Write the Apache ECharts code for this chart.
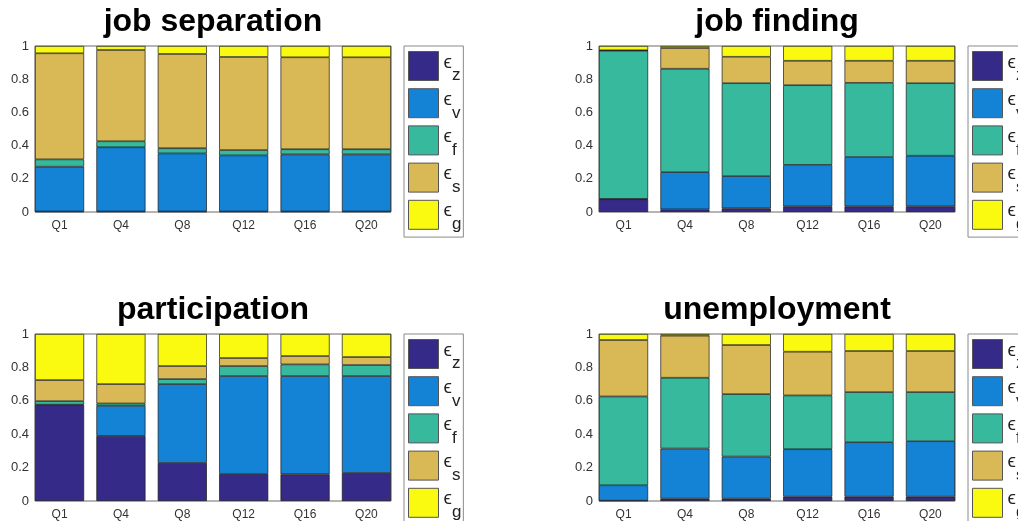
<!DOCTYPE html>
<html>
<head>
<meta charset="utf-8">
<script src="https://cdn.jsdelivr.net/npm/echarts@6/dist/echarts.min.js"></script>
<style>
  html, body { margin: 0; padding: 0; background: #fff; }
  #chart { width: 1018px; height: 521px; }
</style>
</head>
<body>
<div id="chart"></div>
<script>
// Forecast horizons on the x axis
const categories = ['Q1', 'Q4', 'Q8', 'Q12', 'Q16', 'Q20'];
// Shock subscripts shown in the legends (ϵ_z ... ϵ_g)
const shockKeys = ['z', 'v', 'f', 's', 'g'];
const yTicks = [0, 0.2, 0.4, 0.6, 0.8, 1];

// Variance shares: job separation
const sepZ = [0.003, 0.003, 0.003, 0.003, 0.003, 0.003];
const sepV = [0.270, 0.387, 0.350, 0.338, 0.344, 0.344];
const sepF = [0.044, 0.036, 0.031, 0.032, 0.031, 0.031];
const sepS = [0.639, 0.550, 0.568, 0.561, 0.554, 0.554];
const sepG = [0.044, 0.024, 0.048, 0.066, 0.068, 0.068];

// Variance shares: job finding
const findZ = [0.077, 0.016, 0.022, 0.034, 0.034, 0.034];
const findV = [0.002, 0.224, 0.194, 0.250, 0.297, 0.305];
const findF = [0.893, 0.623, 0.560, 0.480, 0.447, 0.437];
const findS = [0.002, 0.125, 0.159, 0.147, 0.133, 0.135];
const findG = [0.026, 0.012, 0.065, 0.089, 0.089, 0.089];

// Variance shares: participation
const partZ = [0.574, 0.390, 0.228, 0.162, 0.160, 0.168];
const partV = [0.003, 0.180, 0.472, 0.586, 0.588, 0.580];
const partF = [0.021, 0.014, 0.030, 0.060, 0.070, 0.066];
const partS = [0.126, 0.116, 0.078, 0.048, 0.050, 0.048];
const partG = [0.276, 0.300, 0.192, 0.144, 0.132, 0.138];

// Variance shares: unemployment
const unempZ = [0.002, 0.014, 0.014, 0.026, 0.026, 0.026];
const unempV = [0.092, 0.300, 0.252, 0.284, 0.326, 0.332];
const unempF = [0.532, 0.424, 0.374, 0.322, 0.300, 0.294];
const unempS = [0.338, 0.252, 0.294, 0.262, 0.246, 0.246];
const unempG = [0.036, 0.010, 0.066, 0.106, 0.102, 0.102];

const shockColors = ['#352A87', '#1483D6', '#36B99D', '#D9B856', '#F9FA0F'];
const FONT = '"Liberation Sans", Arial, Helvetica, sans-serif';

const panels = [
  { title: 'job separation', shares: [sepZ, sepV, sepF, sepS, sepG],           left: 35,  top: 46,  height: 166 },
  { title: 'job finding',    shares: [findZ, findV, findF, findS, findG],      left: 599, top: 46,  height: 166 },
  { title: 'participation',  shares: [partZ, partV, partF, partS, partG],      left: 35,  top: 334, height: 167 },
  { title: 'unemployment',   shares: [unempZ, unempV, unempF, unempS, unempG], left: 599, top: 334, height: 167 }
];
const PLOT_W = 356;
// x range in category units (bars sit at 1..6 with width 0.8, touching the frame)
const X_MIN = 0.6, X_MAX = 6.4;
const barPx = 0.8 * PLOT_W / (X_MAX - X_MIN);
const positions = categories.map((c, i) => i + 1);

const seriesName = k => 'ϵ_' + k;

const grids = [], xAxes = [], yAxes = [], series = [], titles = [], legends = [];

panels.forEach((p, gi) => {
  grids.push({
    left: p.left, top: p.top, width: PLOT_W, height: p.height,
    show: true, borderColor: '#6b6b6b', borderWidth: 1, backgroundColor: 'transparent'
  });
  xAxes.push({
    type: 'value', gridIndex: gi, min: X_MIN, max: X_MAX,
    axisLine: { show: false }, axisTick: { show: false }, splitLine: { show: false },
    axisLabel: {
      customValues: positions,
      formatter: v => categories[Math.round(v) - 1] || '',
      color: '#333', fontSize: 12, fontFamily: FONT, margin: 8
    }
  });
  yAxes.push({
    type: 'value', gridIndex: gi, min: 0, max: 1, interval: 0.2,
    axisLine: { show: false }, axisTick: { show: false }, splitLine: { show: false },
    axisLabel: {
      customValues: yTicks,
      color: '#333', fontSize: 13, fontFamily: FONT, margin: 6
    }
  });
  shockKeys.forEach((k, si) => {
    series.push({
      type: 'bar', name: seriesName(k),
      xAxisIndex: gi, yAxisIndex: gi, stack: 'shares' + gi,
      barWidth: barPx,
      // share first, horizon second: the share column is the one that stacks
      encode: { x: 1, y: 0 },
      data: p.shares[si].map((v, i) => [v, positions[i]]),
      itemStyle: { color: shockColors[si], borderColor: '#1a1a1a', borderWidth: 0.7 },
      emphasis: { disabled: true },
      silent: true
    });
  });
  titles.push({
    text: p.title,
    // the title box carries 5px padding on its left
    left: p.left + PLOT_W / 2 - 5, textAlign: 'center',
    top: p.top - 45,
    textStyle: { fontFamily: FONT, fontWeight: 'bold', fontSize: 32, color: '#000' }
  });
  legends.push({
    orient: 'vertical',
    left: p.left + PLOT_W + 13, top: p.top,
    height: 400,
    data: shockKeys.map(seriesName),
    itemWidth: 30, itemHeight: 29, itemGap: 3.9,
    icon: 'rect',
    padding: [5, 2, 4, 4],
    borderColor: '#8a8a8a', borderWidth: 1,
    itemStyle: { borderColor: '#555', borderWidth: 1 },
    selectedMode: false,
    formatter: name => '{e|ϵ}{s|' + name.split('_')[1] + '}',
    textStyle: {
      color: '#222', fontFamily: FONT,
      rich: {
        // epsilon sits a little above the swatch centre, the subscript well below it
        e: { fontSize: 19, height: 2, padding: [0, 0, 7.4, 0], fontFamily: FONT, color: '#222' },
        s: { fontSize: 17, height: 2, padding: [19.6, 0, 0, 0], fontFamily: FONT, color: '#222' }
      }
    }
  });
});

const chart = echarts.init(document.getElementById('chart'), null, { renderer: 'canvas' });
chart.setOption({
  animation: false,
  backgroundColor: '#fff',
  title: titles,
  legend: legends,
  grid: grids,
  xAxis: xAxes,
  yAxis: yAxes,
  series: series
});
</script>
</body>
</html>
